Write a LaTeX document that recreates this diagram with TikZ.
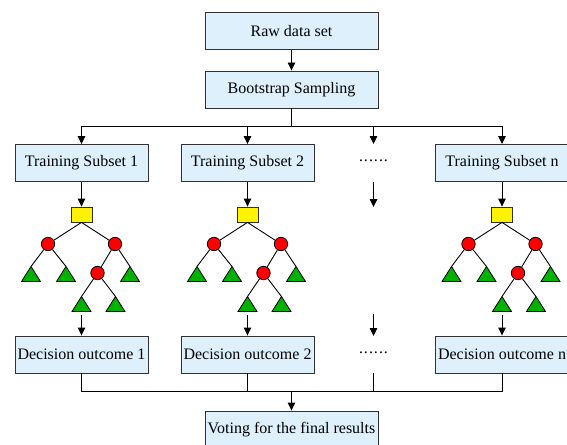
\documentclass[tikz,border=0pt]{standalone}
\usepackage{fontspec}
\setmainfont{Liberation Serif}
\usetikzlibrary{arrows.meta}
\definecolor{boxblue}{RGB}{221,240,252}
\definecolor{leafgreen}{RGB}{0,178,0}
\definecolor{boxline}{RGB}{50,50,50}
\newcommand{\sixdots}{.\kern1pt.\kern1pt.\kern1pt.\kern1pt.\kern1pt.}
\tikzset{
  flowbox/.style={draw=boxline, line width=0.9pt, fill=boxblue, minimum height=37pt, inner sep=0pt, font=\fontsize{16}{19}\selectfont},
  narrowbox/.style={flowbox, minimum width=133pt},
  widebox/.style={flowbox, minimum width=173pt},
  splitnode/.style={draw=boxline, line width=0.8pt, fill=yellow, minimum width=21pt, minimum height=15pt, inner sep=0pt},
  innernode/.style={circle, draw=black, line width=0.8pt, fill=red, minimum size=13.4pt, inner sep=0pt},
  leafstyle/.style={draw=black, line width=0.8pt, fill=leafgreen, line join=miter},
  conn/.style={line width=0.9pt, draw=black},
  arr/.style={conn, -{Triangle[length=8pt,width=7.5pt]}},
  dotstext/.style={inner sep=0pt, font=\fontsize{16}{19}\selectfont}
}
\begin{document}
\begin{tikzpicture}[x=1pt,y=-1pt]
\useasboundingbox (0,0) rectangle (567,444);
\begin{scope}
\clip (0,0) rectangle (567,444);

% top boxes
\node[widebox] (raw) at (291.5,30.75) {Raw data set};
\node[widebox] (boot) at (291.5,89.5) {Bootstrap Sampling};
\draw[arr] (raw) -- (boot);

% training subsets
\node[narrowbox] (ts1) at (81.5,163) {Training Subset 1};
\node[narrowbox] (ts2) at (247.5,163) {Training Subset 2};
\node[dotstext] (tsd) at (373.5,161) {\sixdots};
\node[narrowbox] (tsn) at (502,163) {Training Subset n};

\coordinate (split) at (291.5,126);
\draw[conn] (boot.south) -- (split);
\draw[conn] (81.5,126) coordinate (h1) -- (502,126) coordinate (hn);
\draw[arr] (h1) -- (ts1.north);
\draw[arr] (247.5,126) coordinate (h2) -- (ts2.north);
\draw[arr] (hn) -- (tsn.north);
\coordinate (hd) at (373.5,126);
\coordinate (hdend) at (373.5,144);
\draw[arr] (hd) -- (hdend);

% decision outcomes
\node[narrowbox] (do1) at (81.5,354.5) {Decision outcome 1};
\node[narrowbox] (do2) at (247.5,354.5) {Decision outcome 2};
\node[dotstext] (dod) at (373.5,352.5) {\sixdots};
\node[narrowbox] (don) at (502,354.5) {Decision outcome n};

% dots column arrows
\coordinate (da) at (373.5,182);
\coordinate (db) at (373.5,207);
\draw[arr] (da) -- (db);
\coordinate (dc) at (373.5,314);
\coordinate (dd) at (373.5,336);
\draw[arr] (dc) -- (dd);

% trees
\foreach \c/\i/\top in {81.5/a/ts1, 247.5/b/ts2, 502/n/tsn}{
  \node[splitnode] (sp\i) at (\c,214.5) {};
  \draw[arr] (\top.south) -- (sp\i.north);
  \node[innernode] (L\i) at (\c-33.5,244) {};
  \node[innernode] (R\i) at (\c+33.5,244) {};
  \node[innernode] (M\i) at (\c+16,273) {};
  \draw[conn] (sp\i.south) -- (L\i);
  \draw[conn] (sp\i.south) -- (R\i);
  \draw[conn] (R\i) -- (M\i);
  % leaves: apex coordinates
  \coordinate (t1\i) at (\c-50.5,266.5);
  \coordinate (t2\i) at (\c-15.5,266.5);
  \coordinate (t3\i) at (\c+48.5,266.5);
  \coordinate (t4\i) at (\c,296.5);
  \coordinate (t5\i) at (\c+34,296.5);
  \draw[conn] (L\i) -- (t1\i);
  \draw[conn] (L\i) -- (t2\i);
  \draw[conn] (R\i) -- (t3\i);
  \draw[conn] (M\i) -- (t4\i);
  \draw[conn] (M\i) -- (t5\i);
  \foreach \t in {t1,t2,t3,t4,t5}{
    \draw[leafstyle] (\t\i) -- ++(9.5,15) -- ++(-19,0) -- cycle;
  }
  \coordinate (out\i) at (\c,315);
}
\draw[arr] (outa) -- (do1.north);
\draw[arr] (outb) -- (do2.north);
\draw[arr] (outn) -- (don.north);

% voting
\node[widebox] (vote) at (291.5,429.5) {Voting for the final results};
\coordinate (b1) at (81.5,391);
\coordinate (b2) at (247.5,391);
\coordinate (bd) at (373.5,391);
\coordinate (bdtop) at (373.5,373);
\coordinate (bn) at (502,391);
\coordinate (bm) at (291.5,391);
\draw[conn] (do1.south) -- (b1) -- (bn) -- (don.south);
\draw[conn] (do2.south) -- (b2);
\draw[conn] (bdtop) -- (bd);
\draw[arr] (bm) -- (vote.north);
\end{scope}
\end{tikzpicture}
\end{document}
